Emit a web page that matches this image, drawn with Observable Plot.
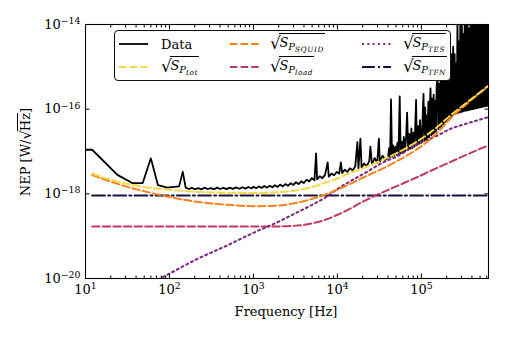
<!DOCTYPE html>
<html>
<head>
<meta charset="utf-8">
<script src="https://cdn.jsdelivr.net/npm/d3@7"></script>
<script src="https://cdn.jsdelivr.net/npm/@observablehq/plot@0.6"></script>
<style>
  html, body { margin: 0; padding: 0; background: #fff; }
  #wrap { position: relative; width: 507px; height: 338px; font-family: "DejaVu Serif", serif; color: #000; }
  #wrap svg { display: block; }
  .lbl { position: absolute; white-space: nowrap; font-size: 13px; line-height: 1; }
  #ylab { left: 25px; top: 152px; transform: translate(-50%, -50%) rotate(-90deg); }
  #xlab { left: 286px; top: 311px; transform: translate(-50%, -50%); }
  .rad { font-size: 1.1em; display: inline-block; vertical-align: -0.05em; margin-right: -0.05em; }
  .ov { display: inline-block; border-top: 1px solid #000; padding-top: 1px; line-height: 1; }
  #legend { position: absolute; left: 114px; top: 30px; width: 337px; height: 51px; background: #fff;
            border: 1px solid #111; border-radius: 4px; box-sizing: border-box; }
  .item { position: absolute; font-size: 13px; line-height: 1; white-space: nowrap; }
  .item .rad { font-size: 1.3em; vertical-align: -0.12em; margin-right: -0.08em; }
  .item .ov { padding-top: 2px; padding-right: 1px; }
  .m i { font-style: italic; }
  .s1 { font-size: 0.76em; vertical-align: -0.35em; font-style: italic; }
  .s2 { font-size: 0.74em; vertical-align: -0.3em; font-style: italic; letter-spacing: 0.6px; }
  .samp { position: absolute; }
</style>
</head>
<body>
<div id="wrap"></div>
<script>
// ---- Data ----
const dataFreq = [10,12,24,36,48,60,73,94,130,144,156,170,185,200,220,240,260,285,310,340,370,400,440,480,520,570,620,680,740,800,870,950,
  1000,1080,1160,1250,1350,1450,1560,1680,1800,1940,2080,2240,2400,2580,2780,2990,3210,3450,3710,3990,4290,4610,4960,5330,5570,5730,
  6160,6620,7120,7660,7900,8500,9140,9830,10500,11000,11400,12200,13100,14100,15200,16300,17300,17800,18800,19400,20800,22400,24000,
  24700,25800,27800,29800,31200,32000,34500,37000,
  40000,41200,42400,43500,44700,46000,47400,48800,50300,51800,53400,55200,56600,58300,60000,61800,63700,65600,67600,69600,71700,73800,
  76000,78300,80600,83000,86500,88300,91000,93700,96500,99400,
  102000,104000,106000,108500,111000,113500,116000,118500,121000,123500,126000,128500,131000,134000,137000,140000,143000,146000,149000,
  152000,155500,159000,162500,166000,169500,173000,177000,181000,185000,189000,193000,197000,201000,205500,210000,214500,219000,224000,
  229000,234000,239000,
  244000,249000,254000,259000,264000,269000,274000,280000,285000,291000,297000,303000,309000,315000,321000,328000,334000,341000,348000,
  355000,362000,369000,376000,384000,392000,400000,408000,416000,424000,432000,441000,450000,459000,468000,477000,487000,497000,507000,
  517000,527000,538000,549000,560000,571000,582000,594000,606000,618000,630000];
const dataNEP = [1.1e-17,1.1e-17,2.8e-18,1.8e-18,1.8e-18,6.9e-18,1.6e-18,1.4e-18,1.5e-18,3.3e-18,1.4e-18,1.3e-18,1.38e-18,1.28e-18,1.36e-18,
  1.27e-18,1.4e-18,1.3e-18,1.37e-18,1.28e-18,1.4e-18,1.3e-18,1.38e-18,1.29e-18,1.4e-18,1.31e-18,1.42e-18,1.32e-18,1.43e-18,1.33e-18,1.45e-18,1.34e-18,
  1.47e-18,1.36e-18,1.5e-18,1.38e-18,1.53e-18,1.4e-18,1.56e-18,1.43e-18,1.6e-18,1.46e-18,1.65e-18,1.5e-18,1.7e-18,1.55e-18,1.78e-18,1.62e-18,
  1.88e-18,1.7e-18,1.98e-18,1.8e-18,2.15e-18,1.95e-18,2.35e-18,2.1e-18,9.0e-18,2.2e-18,
  2.6e-18,2.35e-18,2.8e-18,5.5e-18,2.55e-18,3.0e-18,2.75e-18,3.3e-18,3.0e-18,5.5e-18,3.1e-18,3.7e-18,3.3e-18,4.0e-18,3.6e-18,4.4e-18,1.66e-17,
  4.0e-18,2.0e-17,4.2e-18,5.2e-18,4.5e-18,6.0e-18,
  1.3e-17,5.0e-18,7.0e-18,5.4e-18,2.0e-17,5.8e-18,8.0e-18,6.3e-18,
  7.0e-18,1.2e-17,7.3e-18,1.7e-16,7.6e-18,1.4e-17,8.0e-18,1.3e-17,8.3e-18,1.6e-17,8.6e-18,2.0e-16,9.0e-18,1.7e-17,9.4e-18,2.2e-17,1.0e-17,1.9e-17,
  8.3e-17,1.1e-17,2.6e-17,1.15e-17,3.5e-17,1.2e-17,2.8e-17,1.3e-17,1.66e-16,1.4e-17,4.0e-17,1.5e-17,5.5e-17,1.6e-17,
  1.7e-17,9e-17,2.3e-16,1.8e-17,1.1e-16,1.9e-17,7e-17,2.1e-17,1.5e-16,2.2e-17,1.2e-16,3.1e-16,2.4e-17,1.8e-16,2.6e-17,2.2e-16,2.8e-17,1.6e-16,3.0e-17,
  3.5e-16,5.6e-16,3.4e-17,4e-16,3.7e-17,6e-16,4.0e-17,9e-16,4.4e-17,5e-16,4.8e-17,1.2e-15,5.2e-17,8e-16,5.6e-17,1.5e-15,6.0e-17,1e-15,6.5e-17,
  2e-15,7e-17,3e-15,
  7.6e-17,2e-15,7.8e-17,1.2e-15,8e-17,1.5e-14,8.2e-17,4e-15,8.4e-17,1.5e-14,8.6e-17,1.5e-14,8.8e-17,6e-15,9e-17,1.5e-14,9.2e-17,1.5e-14,9.3e-17,
  1.5e-14,9.5e-17,8e-15,9.7e-17,1.5e-14,9.9e-17,1.5e-14,1.0e-16,1.5e-14,1.02e-16,1e-14,1.04e-16,1.5e-14,1.06e-16,1.5e-14,1.08e-16,1.5e-14,1.1e-16,1.5e-14,
  1.12e-16,1.5e-14,1.14e-16,1.5e-14,1.16e-16,1.5e-14,1.18e-16,1.5e-14,1.2e-16,1.5e-14,1.2e-16];

const modelFreq = [12,20,30,50,100,200,500,1000,2000,3000,5000,7000,10000,14000,20000,35000,50000,90000,150000,220000,350000,630000];
const totNEP   = [3.0e-18,2.15e-18,1.75e-18,1.45e-18,1.25e-18,1.12e-18,1.06e-18,1.05e-18,1.1e-18,1.18e-18,1.45e-18,1.8e-18,2.3e-18,3.1e-18,4.0e-18,6.4e-18,9.0e-18,1.75e-17,3.6e-17,7e-17,1.45e-16,3.6e-16];
const squidNEP = [2.8e-18,1.95e-18,1.5e-18,1.15e-18,8.4e-19,6.6e-19,5.5e-19,5.1e-19,5.3e-19,5.9e-19,7.6e-19,9.4e-19,1.25e-18,1.7e-18,2.4e-18,4.0e-18,5.8e-18,1.15e-17,2.6e-17,5.9e-17,1.35e-16,3.5e-16];
const loadNEP  = [1.7e-19,1.7e-19,1.7e-19,1.7e-19,1.7e-19,1.7e-19,1.7e-19,1.7e-19,1.7e-19,1.75e-19,2.0e-19,2.4e-19,3.2e-19,4.4e-19,6.5e-19,1.1e-18,1.5e-18,2.5e-18,4e-18,5.6e-18,8.5e-18,1.4e-17];
const tesNEP   = [1.5e-21,2.6e-21,3.9e-21,6.4e-21,1.3e-20,2.7e-20,6.2e-20,1.2e-19,2.2e-19,3.3e-19,5.5e-19,7.9e-19,1.3e-18,1.95e-18,2.9e-18,5.5e-18,7.5e-18,1.5e-17,2.3e-17,3.4e-17,4.6e-17,6.5e-17];
const tfnNEP   = [9.1e-19,9.1e-19,9.1e-19,9.1e-19,9.1e-19,9.1e-19,9.1e-19,9.1e-19,9.1e-19,9.1e-19,9.1e-19,9.1e-19,9.1e-19,9.1e-19,9.1e-19,9.1e-19,9.1e-19,9.1e-19,9.1e-19,9.1e-19,9.1e-19,9.1e-19];

const xMajor = [10,100,1000,10000,100000];
const xMinor = [20,30,40,50,60,70,80,90,200,300,400,500,600,700,800,900,2000,3000,4000,5000,6000,7000,8000,9000,
  20000,30000,40000,50000,60000,70000,80000,90000,200000,300000,400000,500000,600000];
const yMajor = [1e-20,1e-18,1e-16,1e-14];

const colors = {data: "#000000", tot: "#f6d746", squid: "#f7801b", load: "#c13a5c", tes: "#7a2584", tfn: "#1a0f40"};
const styles = {
  data:  {stroke: colors.data, strokeWidth: 1.8},
  tot:   {stroke: colors.tot, strokeWidth: 2, strokeDasharray: "7.4,3.2"},
  squid: {stroke: colors.squid, strokeWidth: 2, strokeDasharray: "7.4,3.2"},
  load:  {stroke: colors.load, strokeWidth: 2, strokeDasharray: "7.4,3.2"},
  tes:   {stroke: colors.tes, strokeWidth: 2, strokeDasharray: "2,3.3"},
  tfn:   {stroke: colors.tfn, strokeWidth: 2, strokeDasharray: "12.8,3.2,2,3.2"}
};

// ---- tables ----
const dataRows = dataFreq.map((f, i) => ({f, v: dataNEP[i]}));
const modelSets = {tot: totNEP, squid: squidNEP, load: loadNEP, tes: tesNEP, tfn: tfnNEP};
const modelRows = key => modelFreq.map((f, i) => ({f, v: modelSets[key][i]}));

const pow10 = d => "10^" + String(Math.round(Math.log10(d))).replace("-", "\u2212");
const modelLine = key => Plot.line(modelRows(key), {x: "f", y: "v", curve: "monotone-x", clip: true, ...styles[key]});

const chart = Plot.plot({
  width: 507,
  height: 338,
  marginLeft: 85,
  marginRight: 19,
  marginTop: 24,
  marginBottom: 60,
  style: {fontFamily: "DejaVu Serif, serif", fontSize: "13px", background: "#fff", color: "#000"},
  x: {type: "log", domain: [10, 630000]},
  y: {type: "log", domain: [1e-20, 1e-14]},
  marks: [
    Plot.line(dataRows, {x: "f", y: "v", clip: true, strokeLinejoin: "round", ...styles.data}),
    modelLine("tfn"),
    modelLine("load"),
    modelLine("tes"),
    modelLine("squid"),
    modelLine("tot"),
    Plot.frame({stroke: "#000", strokeWidth: 1.1}),
    Plot.axisX({anchor: "bottom", ticks: xMajor, tickSize: 0, tickPadding: 6, tickFormat: pow10, label: null, fontSize: 13}),
    Plot.axisY({anchor: "left", ticks: yMajor, tickSize: 0, tickPadding: 5, tickFormat: pow10, label: null, fontSize: 13}),
    Plot.axisX({anchor: "bottom", ticks: xMajor, tickSize: 4.5, dy: -4.5, tickFormat: () => "", label: null}),
    Plot.axisX({anchor: "bottom", ticks: xMinor, tickSize: 2.5, dy: -2.5, tickFormat: () => "", label: null}),
    Plot.axisX({anchor: "top", ticks: xMajor, tickSize: 4.5, dy: 4.5, tickFormat: () => "", label: null}),
    Plot.axisX({anchor: "top", ticks: xMinor, tickSize: 2.5, dy: 2.5, tickFormat: () => "", label: null}),
    Plot.axisY({anchor: "left", ticks: yMajor, tickSize: 4.5, dx: 4.5, tickFormat: () => "", label: null}),
    Plot.axisY({anchor: "right", ticks: yMajor, tickSize: 4.5, dx: -4.5, tickFormat: () => "", label: null})
  ]
});

// turn "10^e" tick labels into a base with a raised exponent
d3.select(chart).selectAll("text").each(function () {
  const s = this.textContent;
  if (!s.includes("^")) return;
  const [base, exp] = s.split("^");
  const t = d3.select(this);
  t.text(null);
  t.append("tspan").text(base);
  t.append("tspan").attr("dy", "-0.5em").attr("font-size", "0.72em").text(exp);
});

const wrap = document.getElementById("wrap");
wrap.appendChild(chart);

// axis titles
const ylab = document.createElement("div");
ylab.className = "lbl"; ylab.id = "ylab";
ylab.innerHTML = 'NEP [W/<span class="rad">\u221A</span><span class="ov">Hz</span>]';
wrap.appendChild(ylab);
const xlab = document.createElement("div");
xlab.className = "lbl"; xlab.id = "xlab";
xlab.textContent = "Frequency [Hz]";
wrap.appendChild(xlab);

// legend
const legendItems = [
  {key: "data",  col: 0, row: 0, text: "Data"},
  {key: "tot",   col: 0, row: 1, sub: "tot"},
  {key: "squid", col: 1, row: 0, sub: "SQUID"},
  {key: "load",  col: 1, row: 1, sub: "load"},
  {key: "tes",   col: 2, row: 0, sub: "TES"},
  {key: "tfn",   col: 2, row: 1, sub: "TFN"}
];
const colSample = [4, 115, 247];
const colText = [46, 155, 288];
const rowY = [13, 36];
const legend = document.createElement("div");
legend.id = "legend";
for (const it of legendItems) {
  const s = styles[it.key];
  const samp = document.createElementNS("http://www.w3.org/2000/svg", "svg");
  samp.setAttribute("width", 29); samp.setAttribute("height", 6);
  samp.setAttribute("class", "samp");
  samp.style.left = colSample[it.col] + "px";
  samp.style.top = (rowY[it.row] - 3) + "px";
  const ln = document.createElementNS("http://www.w3.org/2000/svg", "line");
  ln.setAttribute("x1", 0); ln.setAttribute("x2", 29); ln.setAttribute("y1", 3); ln.setAttribute("y2", 3);
  ln.setAttribute("stroke", s.stroke); ln.setAttribute("stroke-width", s.strokeWidth);
  if (s.strokeDasharray) ln.setAttribute("stroke-dasharray", s.strokeDasharray);
  samp.appendChild(ln);
  legend.appendChild(samp);
  const t = document.createElement("div");
  t.className = "item";
  t.style.left = colText[it.col] + "px";
  if (it.text) {
    t.textContent = it.text;
    t.style.top = (rowY[it.row] - 6) + "px";
  } else {
    t.innerHTML = '<span class="m"><span class="rad">\u221A</span><span class="ov"><i>S</i><span class="s1">P<span class="s2">' + it.sub + '</span></span></span></span>';
    t.style.top = (rowY[it.row] - 11) + "px";
  }
  legend.appendChild(t);
}
wrap.appendChild(legend);
</script>
</body>
</html>
